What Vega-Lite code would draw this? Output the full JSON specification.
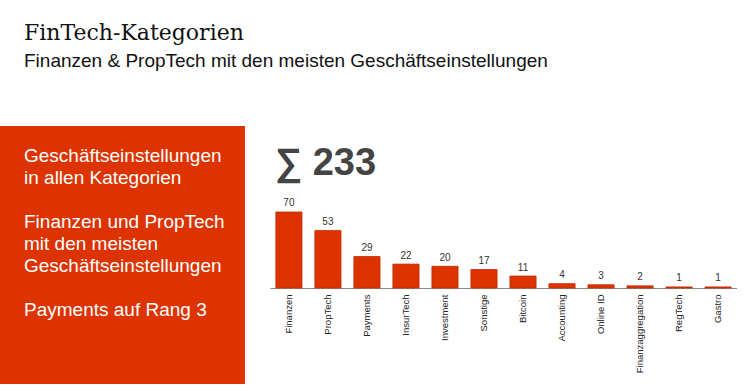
{
  "$schema": "https://vega.github.io/schema/vega-lite/v6.json",
  "background": "white",
  "padding": {"left": 0, "top": 22, "right": 0, "bottom": 0},
  "config": {"font": "Liberation Sans", "view": {"stroke": null}},
  "title": {
    "text": "FinTech-Kategorien",
    "subtitle": "Finanzen & PropTech mit den meisten Geschäftseinstellungen",
    "anchor": "start",
    "dx": 24,
    "font": "DejaVu Serif",
    "fontSize": 22,
    "fontWeight": "normal",
    "color": "#111111",
    "subtitleFont": "Liberation Sans",
    "subtitleFontSize": 19,
    "subtitleColor": "#111111",
    "subtitlePadding": 7,
    "offset": 54
  },
  "spacing": 25,
  "bounds": "flush",
  "resolve": {"scale": {"x": "independent", "y": "independent"}},
  "hconcat": [
    {
      "width": 245,
      "height": 258,
      "view": {"fill": "#dc3300", "stroke": null},
      "data": {"values": [
        {"zeile": 1, "text": "Geschäftseinstellungen"},
        {"zeile": 2, "text": "in allen Kategorien"},
        {"zeile": 4, "text": "Finanzen und PropTech"},
        {"zeile": 5, "text": "mit den meisten"},
        {"zeile": 6, "text": "Geschäftseinstellungen"},
        {"zeile": 8, "text": "Payments auf Rang 3"}
      ]},
      "mark": {"type": "text", "align": "left", "baseline": "alphabetic", "fontSize": 19, "color": "white", "font": "Liberation Sans"},
      "encoding": {
        "text": {"field": "text", "type": "nominal"},
        "x": {"datum": 24, "type": "quantitative", "scale": {"domain": [0, 245], "nice": false}, "axis": null},
        "y": {"field": "zeile", "type": "quantitative", "scale": {"domain": [-0.636, 11.091], "nice": false, "zero": false, "reverse": true}, "axis": null}
      }
    },
    {
      "width": 467,
      "height": 162,
      "view": {"stroke": null},
      "title": {
        "text": "∑ 233",
        "anchor": "start",
        "frame": "group",
        "baseline": "alphabetic",
        "offset": -87,
        "dx": 5,
        "font": "Liberation Sans",
        "fontSize": 38,
        "fontWeight": "bold",
        "color": "#444444"
      },
      "data": {"values": [
        {"kategorie": "Finanzen", "anzahl": 70},
        {"kategorie": "PropTech", "anzahl": 53},
        {"kategorie": "Payments", "anzahl": 29},
        {"kategorie": "InsurTech", "anzahl": 22},
        {"kategorie": "Investment", "anzahl": 20},
        {"kategorie": "Sonstige", "anzahl": 17},
        {"kategorie": "Bitcoin", "anzahl": 11},
        {"kategorie": "Accounting", "anzahl": 4},
        {"kategorie": "Online ID", "anzahl": 3},
        {"kategorie": "Finanzaggregation", "anzahl": 2},
        {"kategorie": "RegTech", "anzahl": 1},
        {"kategorie": "Gastro", "anzahl": 1}
      ]},
      "encoding": {
        "x": {"field": "kategorie", "type": "nominal", "sort": null,
          "scale": {"paddingInner": 0.33, "paddingOuter": 0.15},
          "axis": {"title": null, "labelAngle": -90, "ticks": false, "domainColor": "#8c8c8c", "labelFontSize": 9.5, "labelColor": "#222222", "labelPadding": 6, "labelFont": "Liberation Sans"}},
        "y": {"field": "anzahl", "type": "quantitative", "scale": {"domain": [0, 149.2], "nice": false}, "axis": null}
      },
      "layer": [
        {"mark": {"type": "bar", "fill": "#dc3300", "stroke": "#c22b00", "strokeWidth": 0.8}},
        {"mark": {"type": "text", "dy": -5.5, "baseline": "alphabetic", "fontSize": 10, "color": "#333333"},
         "encoding": {"text": {"field": "anzahl", "type": "quantitative"}}}
      ]
    }
  ]
}
